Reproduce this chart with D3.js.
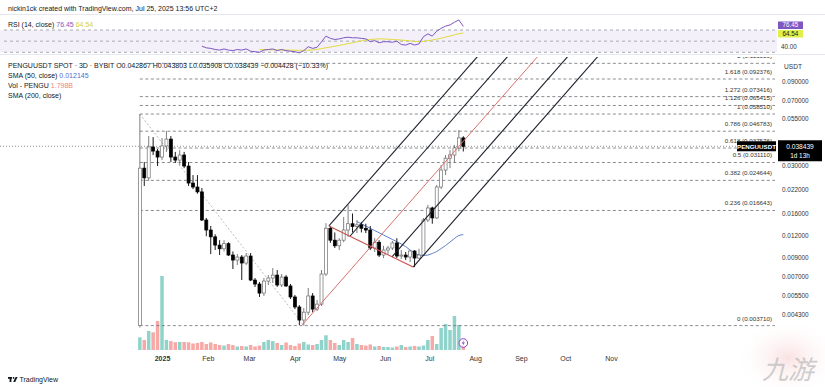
<!DOCTYPE html>
<html>
<head>
<meta charset="utf-8">
<script src="https://cdn.jsdelivr.net/npm/d3@7"></script>
<style>
  html, body { margin: 0; padding: 0; background: #fff; }
  svg { display: block; font-family: "Liberation Sans", Arial, sans-serif; }
</style>
</head>
<body>
<svg id="chart" width="825" height="387"></svg>
<script>
// PENGUUSDT spot, 3D candles on Bybit, first candle Dec 17 2024
const firstCandle = "2024-12-17";
const candleDays = 3;

const opens = [0.00371,0.0289,0.02546,0.0381,0.0361,0.0334,0.0386,0.0422,0.0334,0.0321,
  0.0343,0.0297,0.0238,0.0226,0.0212,0.0147,0.0129,0.0118,0.0106,0.0101,
  0.0108,0.00931,0.00872,0.00907,0.00839,0.00919,0.00672,0.00638,0.00567,0.00663,
  0.0069,0.00717,0.0063,0.00699,0.00622,0.00539,0.00473,0.00399,0.00442,0.00546,
  0.0046,0.00491,0.00727,0.0132,0.0113,0.0105,0.0113,0.0129,0.014,0.0135,
  0.0138,0.0132,0.0129,0.0102,0.011,0.00931,0.00994,0.0102,0.0109,0.00919,
  0.00931,0.00907,0.00981,0.00895,0.00931,0.0147,0.0172,0.0151,0.0226,0.0282,
  0.0329,0.0343,0.0376,0.042867];
const highs = [0.0585,0.0313,0.0439,0.0433,0.0371,0.0428,0.0469,0.0439,0.0357,0.0366,
  0.0357,0.0313,0.0264,0.0264,0.0223,0.0151,0.0136,0.0122,0.0113,0.0113,
  0.011,0.00975,0.00943,0.00931,0.00956,0.00956,0.0069,0.00655,0.0069,0.00717,
  0.00786,0.00766,0.00727,0.00717,0.00638,0.00553,0.00485,0.00467,0.00606,0.00567,
  0.00518,0.00766,0.0141,0.0136,0.0125,0.0116,0.0153,0.0179,0.016,0.0147,
  0.0143,0.014,0.0136,0.0116,0.0113,0.0105,0.0105,0.0112,0.0116,0.00994,
  0.00969,0.00994,0.00994,0.0101,0.0151,0.0179,0.0175,0.0232,0.0301,0.0343,
  0.0366,0.0391,0.0475,0.043803];
const lows = [0.00362,0.0229,0.0245,0.0343,0.0297,0.0321,0.0357,0.0313,0.0309,0.0301,
  0.0289,0.0229,0.022,0.0207,0.0145,0.0119,0.00943,0.00994,0.00931,0.00975,
  0.00919,0.00776,0.00817,0.00672,0.00817,0.00663,0.00614,0.00539,0.00546,0.0063,
  0.00646,0.00614,0.00614,0.00614,0.00525,0.0046,0.00374,0.00371,0.00426,0.00442,
  0.00448,0.00479,0.00708,0.0109,0.0102,0.00994,0.011,0.0118,0.0125,0.0124,
  0.0125,0.0124,0.00994,0.00969,0.00907,0.00895,0.00943,0.00994,0.00895,0.00884,
  0.00872,0.0085,0.00796,0.00884,0.00919,0.0143,0.014,0.0149,0.022,0.0264,
  0.0289,0.0309,0.036,0.035908];
const closes = [0.0289,0.02546,0.0381,0.0361,0.0334,0.0386,0.0422,0.0334,0.0321,0.0343,
  0.0297,0.0238,0.0226,0.0212,0.0147,0.0129,0.0118,0.0106,0.0101,0.0108,
  0.00931,0.00872,0.00907,0.00839,0.00919,0.00672,0.00638,0.00567,0.00663,0.0069,
  0.00717,0.0063,0.00699,0.00622,0.00539,0.00473,0.00399,0.00442,0.00546,0.0046,
  0.00491,0.00727,0.0132,0.0113,0.0105,0.0113,0.0129,0.014,0.0135,0.0138,
  0.0132,0.0129,0.0102,0.011,0.00931,0.00994,0.0102,0.0109,0.00919,0.00931,
  0.00907,0.00981,0.00895,0.00931,0.0147,0.0172,0.0151,0.0226,0.0282,0.0329,
  0.0343,0.0376,0.042867,0.038439];
// volume in billions PENGU
const volumes = [2.85,2.25,4.27,3.98,6.5,16.6,2.25,2.0,1.73,1.8,
  1.8,1.73,1.46,1.57,1.8,1.35,1.69,1.35,1.12,1.0,
  1.35,1.12,0.79,0.9,0.79,1.12,0.79,1.0,1.8,2.25,
  2.0,1.57,1.12,1.69,1.12,0.9,1.46,1.8,1.24,1.12,
  1.35,2.25,3.3,2.25,1.57,1.12,2.25,1.8,2.7,1.35,
  1.12,1.0,1.24,0.79,0.9,0.67,0.67,0.56,0.79,1.12,
  0.67,0.79,0.9,0.79,1.0,2.25,3.15,1.35,4.94,5.84,
  4.49,7.64,5.62,1.798];

// SMA(50, close), first value on candle 49
const smaStart = 49;
const sma50 = [0.01441,0.01398,0.01359,0.01318,0.01281,0.01245,0.01209,0.01174,0.01141,0.01108,
  0.01076,0.01039,0.00994,0.00956,0.00931,0.00925,0.00931,0.0095,0.00975,0.01013,
  0.01054,0.01103,0.01155,0.01201,0.012145];

// RSI(14) from candle 14, its MA from candle 27
const rsiStart = 14;
const rsiValues = [41,38,37,35,34,36,34,33,35,34,36,32,31,30,34,35,36,33,35,33,
  32,31,29,33,40,37,39,49,59,55,53,54,56,57,56,56,55,54,49,51,
  47,49,49,48,50,44,43,46,43,45,58,63,59,68,73,77,79,84,88,76.45];
const rsiMaStart = 27;
const rsiMa = [34.9,34.8,34.7,34.5,34.4,34.3,34.1,33.9,33.7,33.5,
  33.6,33.9,34.2,35.2,36.6,38.1,39.5,40.9,42.3,43.9,
  45.5,47.1,48.8,50.5,52.1,52.9,53.6,54.2,53.9,53.5,
  53.1,52.5,51.9,51.3,50.4,49.5,48.9,49.6,50.9,52.0,
  53.5,55.3,57.3,59.2,61.3,63.4,64.54];
const rsiLevels = [70, 50, 30];

const monthTicks = ["2025-01-01","2025-02-01","2025-03-01","2025-04-01","2025-05-01","2025-06-01",
  "2025-07-01","2025-08-01","2025-09-01","2025-10-01","2025-11-01"];
const monthLabels = ["2025","Feb","Mar","Apr","May","Jun","Jul","Aug","Sep","Oct","Nov"];
const priceTicks = [0.09, 0.07, 0.055, 0.03, 0.022, 0.016, 0.012, 0.009, 0.007, 0.0055, 0.0043];

// fib retracement, high Dec 17 -> low Apr 7
const fibLevels = [0, 0.236, 0.382, 0.5, 0.618, 0.786, 1, 1.126, 1.272, 1.618, 2];
const fibPrices = [0.00371, 0.016643, 0.024644, 0.03111, 0.037576, 0.046783, 0.05851, 0.065415, 0.073416, 0.092376, 0.11331];
const fibStart = ["2024-12-17", 0.05851];
const fibEnd = ["2025-04-07", 0.00371];

// pitchfork anchors
const forkDates = ["2025-04-06", "2025-04-24", "2025-06-20"];
const forkPrices = [0.00375, 0.0136, 0.00796];
const forkOffsets = [0, 0.25, 0.75, 1];

const svg = d3.select("#chart");
const paneRight = 777;
const mainTop = 57, mainBottom = 350;
const rsiTop = 15, rsiBottom = 54;
const parse = d3.utcParse("%Y-%m-%d");
const start = parse(firstCandle);
const dates = closes.map((_, i) => d3.utcDay.offset(start, i * candleDays));

const x = d3.scaleUtc().domain([parse("2025-01-01"), parse("2025-11-01")]).range([162, 611]);
const y = d3.scaleLog().domain([0.09, 0.0043]).range([81, 314.3]);
const yVol = d3.scaleLinear().domain([0, 16.6]).range([mainBottom, mainBottom - 74]);
const yRsi = d3.scaleLinear().domain([30, 70]).range([52.3, 30]);

const defs = svg.append("defs");
defs.append("clipPath").attr("id", "clipMain").append("rect")
  .attr("x", 0).attr("y", mainTop).attr("width", paneRight).attr("height", mainBottom - mainTop);
defs.append("clipPath").attr("id", "clipRsi").append("rect")
  .attr("x", 0).attr("y", rsiTop).attr("width", paneRight).attr("height", rsiBottom - rsiTop);
const grad = defs.append("radialGradient").attr("id", "wm");
grad.append("stop").attr("offset", "0%").attr("stop-color", "#f6c9c9").attr("stop-opacity", 0.55);
grad.append("stop").attr("offset", "100%").attr("stop-color", "#fff").attr("stop-opacity", 0);

const txt = "#131722";

// header
svg.append("text").attr("x", 8).attr("y", 10.5).attr("font-size", 7).attr("fill", txt)
  .text("nickin1ck created with TradingView.com, Jul 25, 2025 13:56 UTC+2");

// pane separators
[rsiTop - 0.5, rsiBottom + 0.5].forEach(v => svg.append("line")
  .attr("x1", 0).attr("x2", 825).attr("y1", v).attr("y2", v)
  .attr("stroke", "#e6e8ee").attr("stroke-width", 1));

// ---------- RSI pane ----------
const rsiG = svg.append("g").attr("clip-path", "url(#clipRsi)");
rsiG.append("rect").attr("x", 0).attr("width", paneRight)
  .attr("y", yRsi(70)).attr("height", yRsi(30) - yRsi(70))
  .attr("fill", "#7e57c2").attr("fill-opacity", 0.09);
rsiG.selectAll("line.lvl").data(rsiLevels).join("line")
  .attr("class", "lvl")
  .attr("x1", 4).attr("x2", paneRight).attr("y1", d => yRsi(d)).attr("y2", d => yRsi(d))
  .attr("stroke", "#9598a1").attr("stroke-width", 0.8).attr("stroke-dasharray", "3,3");

const rsiLine = d3.line().x(d => x(d[0])).y(d => yRsi(d[1]));
rsiG.append("path")
  .datum(rsiMa.map((v, i) => [dates[rsiMaStart + i], v]))
  .attr("d", rsiLine).attr("fill", "none").attr("stroke", "#e2dc3c").attr("stroke-width", 1);
rsiG.append("path")
  .datum(rsiValues.map((v, i) => [dates[rsiStart + i], v]))
  .attr("d", rsiLine).attr("fill", "none").attr("stroke", "#7e57c2").attr("stroke-width", 1);

const rsiTitle = svg.append("text").attr("x", 8).attr("y", 27).attr("font-size", 7).attr("fill", txt);
rsiTitle.append("tspan").text("RSI (14, close) ");
rsiTitle.append("tspan").attr("fill", "#7e57c2").text(d3.format(".2f")(rsiValues[rsiValues.length - 1]) + " ");
rsiTitle.append("tspan").attr("fill", "#d6d23a").text(d3.format(".2f")(rsiMa[rsiMa.length - 1]));

// RSI scale labels
svg.append("rect").attr("x", 778).attr("y", 21.5).attr("width", 25).attr("height", 7.5).attr("fill", "#7e57c2");
svg.append("text").attr("x", 790.5).attr("y", 27.4).attr("text-anchor", "middle").attr("font-size", 6.3)
  .attr("fill", "#fff").text(d3.format(".2f")(rsiValues[rsiValues.length - 1]));
svg.append("rect").attr("x", 778).attr("y", 30).attr("width", 25).attr("height", 7.5).attr("fill", "#e1ef4a");
svg.append("text").attr("x", 790.5).attr("y", 35.9).attr("text-anchor", "middle").attr("font-size", 6.3)
  .attr("fill", txt).text(d3.format(".2f")(rsiMa[rsiMa.length - 1]));
svg.append("text").attr("x", 781).attr("y", 49).attr("font-size", 6.3).attr("fill", "#333")
  .text(d3.format(".2f")(40));

// ---------- main pane ----------
const main = svg.append("g").attr("clip-path", "url(#clipMain)");

// volume
main.append("g").selectAll("rect").data(volumes).join("rect")
  .attr("x", (d, i) => x(dates[i]) - 1.75)
  .attr("width", 3.5)
  .attr("y", d => yVol(d))
  .attr("height", d => yVol(0) - yVol(d))
  .attr("fill", (d, i) => closes[i] >= opens[i] ? "#8fd3cb" : "#f6a9a6");

// fib levels
const fibX0 = x(parse(fibStart[0]));
const fibG = main.append("g");
fibG.selectAll("line").data(fibPrices).join("line")
  .attr("x1", fibX0).attr("x2", paneRight - 2)
  .attr("y1", d => y(d)).attr("y2", d => y(d))
  .attr("stroke", "#6b6e76").attr("stroke-width", 0.8).attr("stroke-dasharray", "3,2.5");
fibG.selectAll("text").data(fibPrices).join("text")
  .attr("x", 772).attr("y", d => y(d) - 5)
  .attr("text-anchor", "end").attr("font-size", 6.2).attr("fill", "#333")
  .text((d, i) => `${fibLevels[i]} (${d3.format(".6f")(d)})`);
main.append("line")
  .attr("x1", fibX0).attr("y1", y(fibStart[1]))
  .attr("x2", x(parse(fibEnd[0]))).attr("y2", y(fibEnd[1]))
  .attr("stroke", "#9a9ca3").attr("stroke-width", 0.7).attr("stroke-dasharray", "2,2");

// last price line
const last = closes.length - 1;
main.append("line").attr("x1", 0).attr("x2", paneRight)
  .attr("y1", y(closes[last])).attr("y2", y(closes[last]))
  .attr("stroke", "#777").attr("stroke-width", 0.8).attr("stroke-dasharray", "1,2");

// SMA 50
main.append("path")
  .datum(sma50.map((v, i) => [dates[smaStart + i], v]))
  .attr("d", d3.line().curve(d3.curveMonotoneX).x(d => x(d[0])).y(d => y(d[1])))
  .attr("fill", "none").attr("stroke", "#5b7fd0").attr("stroke-width", 1);

// candles
const candles = main.append("g").selectAll("g").data(closes).join("g");
candles.append("line")
  .attr("x1", (d, i) => x(dates[i])).attr("x2", (d, i) => x(dates[i]))
  .attr("y1", (d, i) => y(highs[i])).attr("y2", (d, i) => y(lows[i]))
  .attr("stroke", (d, i) => d >= opens[i] ? "#6f6f6f" : "#000").attr("stroke-width", 0.9);
candles.append("rect")
  .attr("x", (d, i) => x(dates[i]) - 1.5)
  .attr("width", 3)
  .attr("y", (d, i) => y(Math.max(d, opens[i])))
  .attr("height", (d, i) => Math.max(1, Math.abs(y(d) - y(opens[i]))))
  .attr("fill", (d, i) => d >= opens[i] ? "#fff" : "#000")
  .attr("stroke", (d, i) => d >= opens[i] ? "#6f6f6f" : "#000")
  .attr("stroke-width", 0.7);

// pitchfork
const fp = forkDates.map((d, i) => [x(parse(d)), y(forkPrices[i])]);
const mid = [(fp[1][0] + fp[2][0]) / 2, (fp[1][1] + fp[2][1]) / 2];
const dx = mid[0] - fp[0][0], dy = mid[1] - fp[0][1];
const len = Math.hypot(dx, dy), ux = dx / len, uy = dy / len;
const far = 900;
const forkG = main.append("g");
forkOffsets.forEach(t => {
  const sx = fp[1][0] + (fp[2][0] - fp[1][0]) * t;
  const sy = fp[1][1] + (fp[2][1] - fp[1][1]) * t;
  forkG.append("line").attr("x1", sx).attr("y1", sy)
    .attr("x2", sx + ux * far).attr("y2", sy + uy * far)
    .attr("stroke", "#1e222d").attr("stroke-width", 1.1);
});
forkG.append("line").attr("x1", fp[1][0]).attr("y1", fp[1][1]).attr("x2", fp[2][0]).attr("y2", fp[2][1])
  .attr("stroke", "#c9504c").attr("stroke-width", 1.1);
forkG.append("line").attr("x1", fp[0][0]).attr("y1", fp[0][1])
  .attr("x2", fp[0][0] + ux * far).attr("y2", fp[0][1] + uy * far)
  .attr("stroke", "#d9706b").attr("stroke-width", 1);

// legend
const lg = svg.append("g").attr("font-size", 7).attr("fill", txt);
const l1 = lg.append("text").attr("x", 8).attr("y", 67.5);
l1.append("tspan").text("PENGUUSDT SPOT · 3D · BYBIT  ");
const ohlc = [["O", opens[last]], ["H", highs[last]], ["L", lows[last]], ["C", closes[last]]];
ohlc.forEach(([k, v]) => { l1.append("tspan").text(k); l1.append("tspan").text(d3.format(".6f")(v) + " "); });
const chg = closes[last] - closes[last - 1];
l1.append("tspan").text(`−${d3.format(".6f")(Math.abs(chg))} (−10.33%)`);
const l2 = lg.append("text").attr("x", 8).attr("y", 77.5);
l2.append("tspan").text("SMA (50, close) ");
l2.append("tspan").attr("fill", "#4a6fd6").text(d3.format(".6f")(sma50[sma50.length - 1]));
const l3 = lg.append("text").attr("x", 8).attr("y", 87.5);
l3.append("tspan").text("Vol - PENGU ");
l3.append("tspan").attr("fill", "#ef7f7b").text(d3.format(".3f")(volumes[last]) + "B");
lg.append("text").attr("x", 8).attr("y", 97.5).text("SMA (200, close)");

// price axis
const yAxis = svg.append("g").attr("transform", `translate(779,0)`)
  .call(d3.axisRight(y).tickValues(priceTicks).tickFormat(d3.format(".6f")).tickSize(0).tickPadding(3));
yAxis.select(".domain").remove();
yAxis.selectAll("text").attr("font-size", 6.4).attr("fill", "#333")
  .attr("font-family", "Liberation Sans, Arial, sans-serif");
svg.append("text").attr("x", 784).attr("y", 68.5).attr("font-size", 6.6).attr("fill", "#333").text("USDT");

// last price tags
const py = y(closes[last]);
svg.append("rect").attr("x", 737).attr("y", py - 5).attr("width", 39).attr("height", 10).attr("fill", "#000");
svg.append("text").attr("x", 756.5).attr("y", py + 2.3).attr("text-anchor", "middle")
  .attr("font-size", 6.2).attr("font-weight", "bold").attr("fill", "#fff").text("PENGUUSDT");
svg.append("rect").attr("x", 778).attr("y", py - 6).attr("width", 44).attr("height", 21).attr("fill", "#000");
svg.append("text").attr("x", 800).attr("y", py + 2.3).attr("text-anchor", "middle")
  .attr("font-size", 6.6).attr("fill", "#fff").text(d3.format(".6f")(closes[last]));
svg.append("text").attr("x", 800).attr("y", py + 11.5).attr("text-anchor", "middle")
  .attr("font-size", 6.4).attr("fill", "#fff").text("1d 13h");

// time axis
const xAxis = svg.append("g").attr("transform", `translate(0,${mainBottom + 2})`)
  .call(d3.axisBottom(x).tickValues(monthTicks.map(parse))
    .tickFormat((d, i) => monthLabels[i]).tickSize(0).tickPadding(4));
xAxis.select(".domain").remove();
xAxis.selectAll("text").attr("font-size", 7).attr("fill", "#333")
  .attr("font-family", "Liberation Sans, Arial, sans-serif")
  .attr("font-weight", (d, i) => i === 0 ? "bold" : "normal");

// event marker near the last bar
const ev = svg.append("g").attr("transform", `translate(${x(dates[last])},343)`);
ev.append("circle").attr("r", 4.3).attr("fill", "#fff").attr("stroke", "#9c3fc1").attr("stroke-width", 1);
ev.append("path").attr("d", "M0.8,-3 L-1.6,0.5 L0,0.5 L-0.8,3 L1.6,-0.5 L0,-0.5 Z").attr("fill", "#9c3fc1");

// footer logo
const logo = svg.append("g").attr("transform", "translate(8,377)");
logo.append("rect").attr("x", 0).attr("y", 0).attr("width", 4).attr("height", 1.8).attr("fill", txt);
logo.append("rect").attr("x", 1.6).attr("y", 0).attr("width", 1.8).attr("height", 5).attr("fill", txt);
logo.append("circle").attr("cx", 5.6).attr("cy", 0.9).attr("r", 0.9).attr("fill", txt);
logo.append("path").attr("d", "M5.2,5 L7.6,0 L9.6,0 L7.2,5 Z").attr("fill", txt);
svg.append("text").attr("x", 19.5).attr("y", 382.2).attr("font-size", 7).attr("fill", txt).text("TradingView");

// watermark
svg.append("ellipse").attr("cx", 788).attr("cy", 358).attr("rx", 55).attr("ry", 40).attr("fill", "url(#wm)");
svg.append("text").attr("x", 814).attr("y", 379).attr("text-anchor", "end")
  .attr("font-family", "Noto Sans CJK SC").attr("font-size", 26).attr("font-style", "italic")
  .attr("fill", "#bdbdbd").attr("fill-opacity", 0.75).text("九游");
</script>
</body>
</html>
